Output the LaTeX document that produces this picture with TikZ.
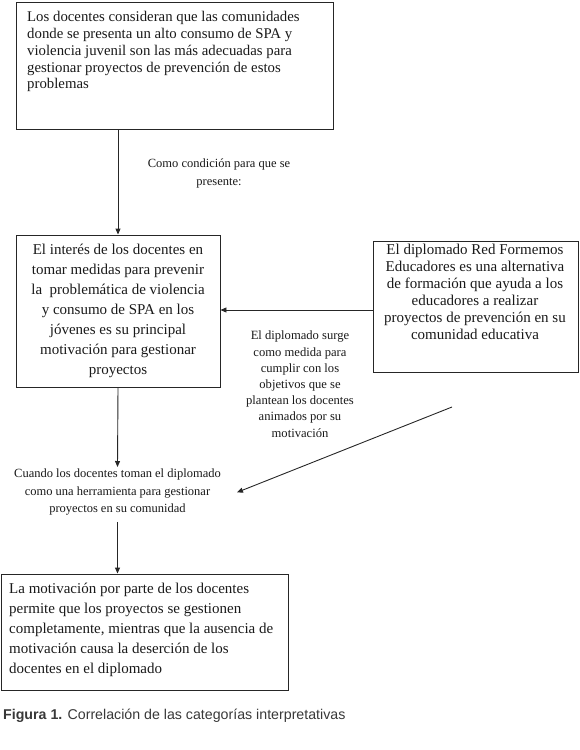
\documentclass[tikz,border=0pt]{standalone}
\usepackage{fontspec}
\setmainfont{Liberation Serif}
\newfontfamily\capfont{Liberation Sans}
\usetikzlibrary{arrows.meta}
\begin{document}
\begin{tikzpicture}[x=1pt,y=-1pt,
  box/.style={draw=black!85, line width=0.9pt, inner sep=0pt},
  boxtext/.style={inner sep=0pt, text=black!90},
  lbl/.style={inner sep=0pt, align=center, text=black!90},
  conn/.style={draw=black!85, line width=0.9pt, -{Triangle[length=6pt,width=5pt]}}
]
\useasboundingbox (0,0) rectangle (580,750);

% boxes
\node[box, minimum width=317pt, minimum height=127pt] (top) at (174.5,65.5) {};
\node[boxtext, anchor=north west, align=left, font=\fontsize{14.8}{16.7}\selectfont] (toptext) at (27,11.5)
  {Los docentes consideran que las comunidades\\donde se presenta un alto consumo de SPA y\\violencia juvenil son las más adecuadas para\\gestionar proyectos de prevención de estos\\problemas};

\node[box, minimum width=204pt, minimum height=152pt, align=center, font=\fontsize{15}{20}\selectfont, text=black!90] (mid) at (118,311)
  {El interés de los docentes en\\tomar medidas para prevenir\\la \ problemática de violencia\\y consumo de SPA en los\\jóvenes es su principal\\motivación para gestionar\\proyectos};

\node[box, minimum width=205pt, minimum height=131pt] (right) at (475.5,306.5) {};
\node[boxtext, anchor=north, align=center, font=\fontsize{15}{17}\selectfont] (righttext) at (475,244)
  {El diplomado Red Formemos\\Educadores es una alternativa\\de formación que ayuda a los\\educadores a realizar\\proyectos de prevención en su\\comunidad educativa};

\node[box, minimum width=287pt, minimum height=116pt] (bot) at (144.5,632) {};
\node[boxtext, anchor=north west, align=left, font=\fontsize{15}{20}\selectfont] (bottext) at (9,583)
  {La motivación por parte de los docentes\\permite que los proyectos se gestionen\\completamente, mientras que la ausencia de\\motivación causa la deserción de los\\docentes en el diplomado};

% labels
\node[lbl, anchor=north, font=\fontsize{12.5}{18}\selectfont] (cond) at (219,159)
  {Como condición para que se\\presente:};
\node[lbl, anchor=north, font=\fontsize{12.6}{16.2}\selectfont] (surge) at (300,331)
  {El diplomado surge\\como medida para\\cumplir con los\\objetivos que se\\plantean los docentes\\animados por su\\motivación};
\node[lbl, anchor=north, inner ysep=2pt, inner xsep=16pt, font=\fontsize{12.5}{17.5}\selectfont] (cuando) at (117.5,467)
  {Cuando los docentes toman el diplomado\\como una herramienta para gestionar\\proyectos en su comunidad};

\coordinate (dstart) at (452,407);

% connectors
\draw[conn] (top.south -| mid.north) -- (mid.north);
\draw[conn] (right.west |- 0,310) -- (mid.east |- 0,310);
\draw[conn] (mid.south) -- (cuando.north);
\draw[conn] (dstart) -- (cuando.east);
\draw[conn] (cuando.south) ++(0,4) -- (cuando.south |- bot.north);

% caption
\node[anchor=base west, inner sep=0pt, text=black!78, font=\capfont\fontsize{14.2}{16}\selectfont] (cap) at (3,719)
  {\textbf{Figura 1.} Correlación de las categorías interpretativas};
\end{tikzpicture}
\end{document}
